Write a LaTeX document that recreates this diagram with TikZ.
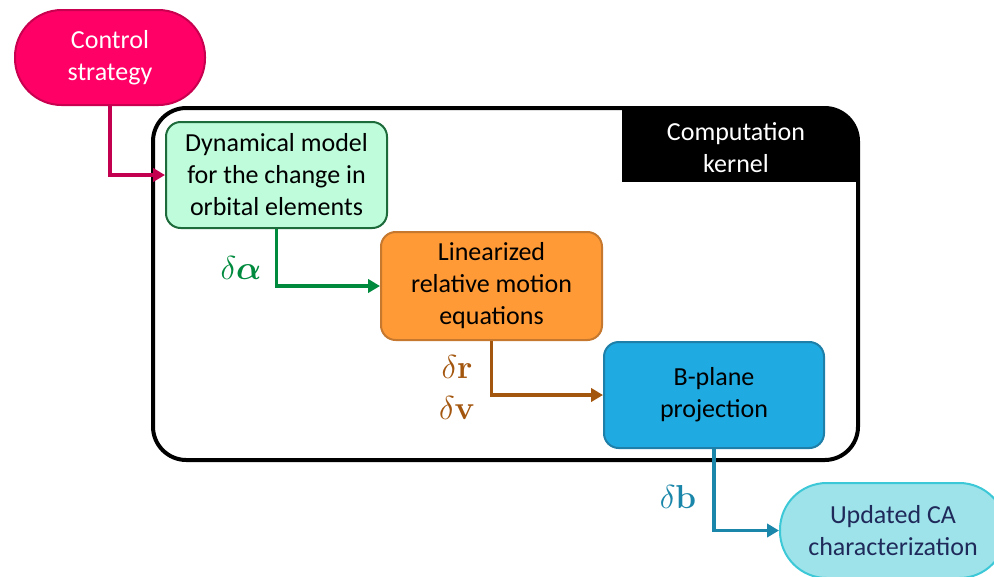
\documentclass[tikz,border=0pt]{standalone}
\usepackage{amsmath}
\usepackage{bm}
\usepackage[no-math]{fontspec}
\setmainfont{Carlito}
\usetikzlibrary{arrows.meta}

\newlength\px
\setlength\px{0.75pt}

\definecolor{ctrlfill}{HTML}{FF0066}
\definecolor{ctrldraw}{HTML}{C8004F}
\definecolor{dynfill}{HTML}{BEFCDB}
\definecolor{dyndraw}{HTML}{1D6B3A}
\definecolor{linfill}{HTML}{FF9A36}
\definecolor{lindraw}{HTML}{C5782E}
\definecolor{bplfill}{HTML}{1FAAE1}
\definecolor{bpldraw}{HTML}{1E7FA8}
\definecolor{updfill}{HTML}{9EE3EA}
\definecolor{upddraw}{HTML}{3CC8D6}
\definecolor{updtext}{HTML}{1F2A5A}
\definecolor{ctrlarrow}{HTML}{C3004F}
\definecolor{greenarrow}{HTML}{008A3E}
\definecolor{brownarrow}{HTML}{A3560E}
\definecolor{bluearrow}{HTML}{1A86A9}

\tikzset{
  blockbox/.style={rectangle, rounded corners=11pt, line width=1.5pt,
    align=center, inner sep=0pt, font=\fontsize{19.5}{24}\selectfont},
  pill/.style={blockbox, rounded corners=35pt},
  flow/.style={line width=2.5pt, -{Triangle[length=9pt,width=10pt]}},
  varlabel/.style={inner sep=0pt, font=\fontsize{29}{32}\selectfont},
}

\begin{document}
\begin{tikzpicture}[x=\px, y=-\px]
\useasboundingbox (0,0) rectangle (994,576);

% computation kernel frame with its black title tab
\begin{scope}
  \clip[rounded corners=25pt] (153,108) rectangle (858,460);
  \fill[black] (622,108) rectangle (858,182);
\end{scope}
\node[draw=black, line width=3pt, rounded corners=25pt, inner sep=0pt,
      minimum width=705\px, minimum height=352\px] (kernel) at (505.5,284) {};
\node[text=white, align=center, inner sep=0pt,
      font=\fontsize{19.5}{24}\selectfont] (kerneltitle) at (736,148) {Computation\\kernel};

% blocks
\node[pill, fill=ctrlfill, draw=ctrldraw, text=white,
      minimum width=190\px, minimum height=95\px] (ctrl) at (110,57.5) {Control\\strategy};
\node[blockbox, fill=dynfill, draw=dyndraw,
      minimum width=221\px, minimum height=106\px] (dyn) at (276.5,175) {Dynamical model\\for the change in\\orbital elements};
\node[blockbox, fill=linfill, draw=lindraw,
      minimum width=221\px, minimum height=108\px] (lin) at (491.5,286) {Linearized\\relative motion\\equations};
\node[blockbox, fill=bplfill, draw=bpldraw,
      minimum width=220\px, minimum height=106\px] (bpl) at (714,395) {B-plane\\projection};
\node[pill, fill=updfill, draw=upddraw, text=updtext,
      minimum width=226\px, minimum height=95\px] (upd) at (893,530.5) {Updated CA\\characterization};

% connectors
\draw[flow, ctrlarrow] (ctrl.south) |- (dyn.west);
\draw[flow, greenarrow] (dyn.south) |- (lin.west);
\draw[flow, brownarrow] (lin.south) |- (bpl.west);
\draw[flow, bluearrow] (bpl.south) |- (upd.west);

% variable labels
\node[varlabel, text=greenarrow] (lalpha) at (241,268) {$\delta\bm{\alpha}$};
\node[varlabel, text=brownarrow] (lr) at (457,367) {$\delta\mathbf{r}$};
\node[varlabel, text=brownarrow] (lv) at (457,408) {$\delta\mathbf{v}$};
\node[varlabel, text=bluearrow] (lb) at (678,497) {$\delta\mathbf{b}$};
\end{tikzpicture}
\end{document}
